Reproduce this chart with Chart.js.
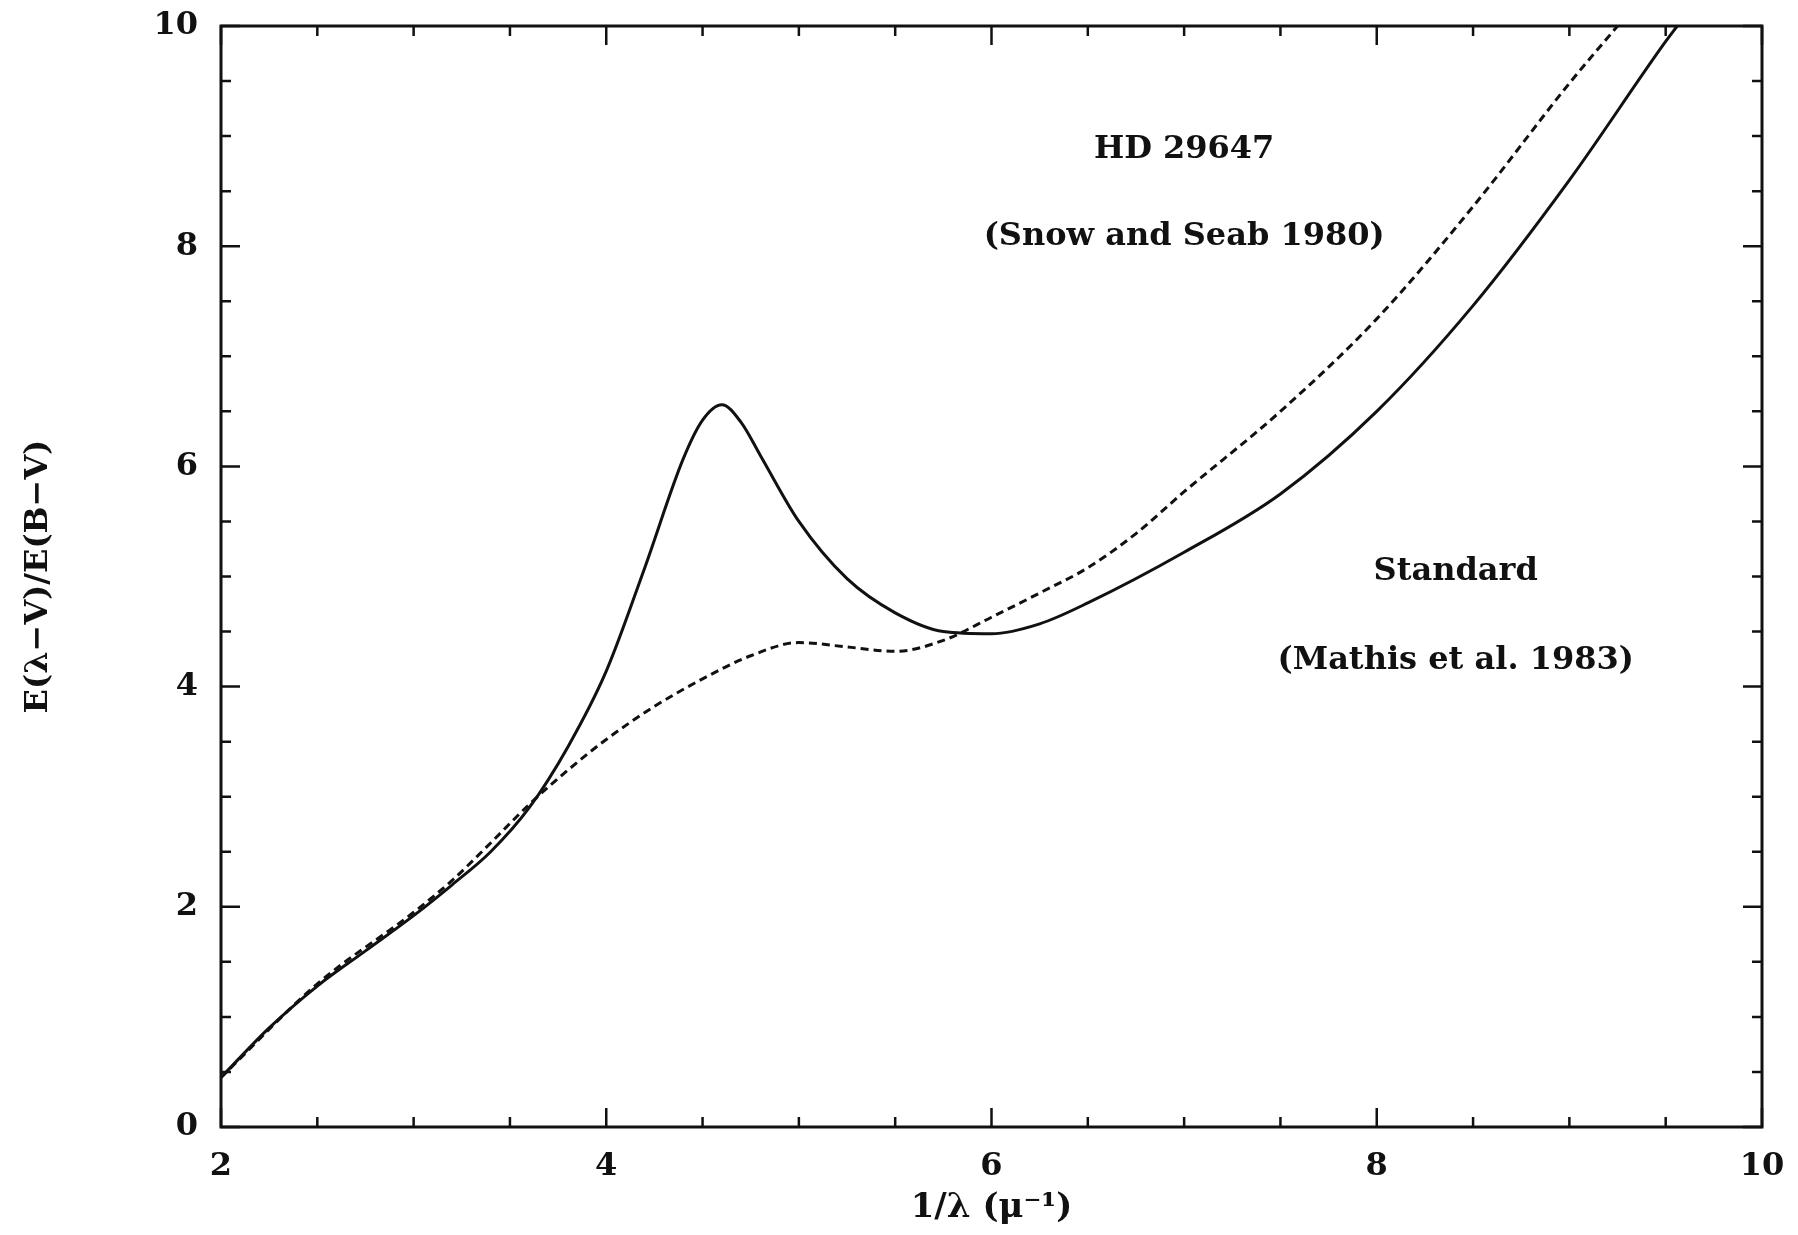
<!DOCTYPE html>
<html>
<head>
<meta charset="utf-8">
<script src="https://cdn.jsdelivr.net/npm/chart.js@4.4.0/dist/chart.umd.min.js"></script>
<style>
  html, body { margin: 0; padding: 0; background: #fff; }
</style>
</head>
<body>
<canvas id="chart" width="1798" height="1235"></canvas>
<script>
// HD 29647 (Snow and Seab 1980) - solid curve
const hdX = [2.0, 2.25, 2.5, 2.75, 3.0, 3.2, 3.4, 3.6, 3.8, 4.0, 4.2, 4.4, 4.5, 4.6, 4.7, 4.8,
             5.0, 5.25, 5.5, 5.75, 6.0, 6.25, 6.5, 7.0, 7.5, 8.0, 8.5, 9.0, 9.5, 9.56];
const hdY = [0.45, 0.90, 1.28, 1.60, 1.92, 2.20, 2.50, 2.90, 3.45, 4.14, 5.08, 6.07, 6.42, 6.56, 6.40, 6.10,
             5.50, 4.98, 4.67, 4.50, 4.48, 4.57, 4.76, 5.22, 5.75, 6.50, 7.46, 8.60, 9.86, 10.0];

// Standard curve (Mathis et al. 1983) - dashed
const stdX = [2.0, 2.5, 3.0, 3.2, 3.4, 3.6, 3.8, 4.0, 4.25, 4.5, 4.75, 5.0, 5.25, 5.5, 5.75,
              6.0, 6.25, 6.5, 6.75, 7.0, 7.5, 8.0, 8.5, 9.0, 9.25];
const stdY = [0.45, 1.30, 1.95, 2.24, 2.58, 2.93, 3.24, 3.52, 3.82, 4.07, 4.28, 4.40, 4.36, 4.32, 4.42,
              4.63, 4.85, 5.08, 5.39, 5.77, 6.50, 7.34, 8.36, 9.48, 10.0];

const xRange = [2, 10];
const yRange = [0, 10];
const majorStep = 2;
const minorStep = 0.5;

const notes = [
  { text: 'HD 29647', x: 7.0, y: 8.80 },
  { text: '(Snow and Seab 1980)', x: 7.0, y: 8.01 },
  { text: 'Standard', x: 8.41, y: 4.97 },
  { text: '(Mathis et al. 1983)', x: 8.41, y: 4.16 },
];

const ink = '#111';
const serif = "'DejaVu Serif', serif";
const font = { family: serif, size: 32, weight: 'bold' };

const toPoints = (xs, ys) => xs.map((x, i) => ({ x: x, y: ys[i] }));

// frame with inward ticks on all four sides, plus text labels
const framePlugin = {
  id: 'frame',
  afterDatasetsDraw(chart) {
    const { ctx, chartArea: a, scales: { x, y } } = chart;
    ctx.save();
    ctx.strokeStyle = ink;
    ctx.lineWidth = 3;
    ctx.strokeRect(a.left, a.top, a.right - a.left, a.bottom - a.top);

    ctx.lineWidth = 2.5;
    ctx.beginPath();
    for (let v = x.min; v <= x.max + 1e-9; v += minorStep) {
      const px = x.getPixelForValue(v);
      const len = Math.abs(v % majorStep) < 1e-9 ? 19 : 10;
      ctx.moveTo(px, a.bottom); ctx.lineTo(px, a.bottom - len);
      ctx.moveTo(px, a.top); ctx.lineTo(px, a.top + len);
    }
    for (let v = y.min; v <= y.max + 1e-9; v += minorStep) {
      const py = y.getPixelForValue(v);
      const len = Math.abs(v % majorStep) < 1e-9 ? 19 : 10;
      ctx.moveTo(a.left, py); ctx.lineTo(a.left + len, py);
      ctx.moveTo(a.right, py); ctx.lineTo(a.right - len, py);
    }
    ctx.stroke();

    ctx.fillStyle = ink;
    ctx.font = 'bold 32px ' + serif;
    ctx.textAlign = 'center';
    ctx.textBaseline = 'alphabetic';
    notes.forEach(n => {
      ctx.fillText(n.text, x.getPixelForValue(n.x), y.getPixelForValue(n.y));
    });
    ctx.restore();
  }
};

new Chart(document.getElementById('chart').getContext('2d'), {
  type: 'line',
  data: {
    datasets: [
      {
        label: 'HD 29647',
        data: toPoints(hdX, hdY),
        borderColor: ink,
        borderWidth: 3,
        cubicInterpolationMode: 'monotone',
        pointRadius: 0,
        fill: false,
      },
      {
        label: 'Standard',
        data: toPoints(stdX, stdY),
        borderColor: ink,
        borderWidth: 3,
        borderDash: [8, 5],
        cubicInterpolationMode: 'monotone',
        pointRadius: 0,
        fill: false,
      },
    ],
  },
  options: {
    responsive: false,
    animation: false,
    layout: { padding: { top: 26, right: 36, left: 0, bottom: 0 } },
    plugins: {
      legend: { display: false },
      tooltip: { enabled: false },
    },
    scales: {
      x: {
        type: 'linear',
        min: xRange[0],
        max: xRange[1],
        grid: { display: false, drawTicks: false },
        border: { display: false },
        ticks: { stepSize: majorStep, color: ink, font: font, padding: 20, maxRotation: 0 },
        title: {
          display: true,
          text: '1/λ (μ⁻¹)',
          color: ink,
          font: { family: serif, size: 34, weight: 'bold' },
          padding: { top: 0, bottom: 6 },
        },
        afterFit(scale) {
          scale.height = 108;
          scale.paddingLeft = 0;
          scale.paddingRight = 0;
        },
      },
      y: {
        type: 'linear',
        min: yRange[0],
        max: yRange[1],
        grid: { display: false, drawTicks: false },
        border: { display: false },
        ticks: { stepSize: majorStep, color: ink, font: font, padding: 23 },
        title: {
          display: true,
          text: 'E(λ−V)/E(B−V)',
          color: ink,
          font: font,
          padding: { top: 19, bottom: 0 },
        },
        afterFit(scale) {
          scale.width = 221;
          scale.paddingTop = 0;
          scale.paddingBottom = 0;
        },
      },
    },
  },
  plugins: [framePlugin],
});
</script>
</body>
</html>
